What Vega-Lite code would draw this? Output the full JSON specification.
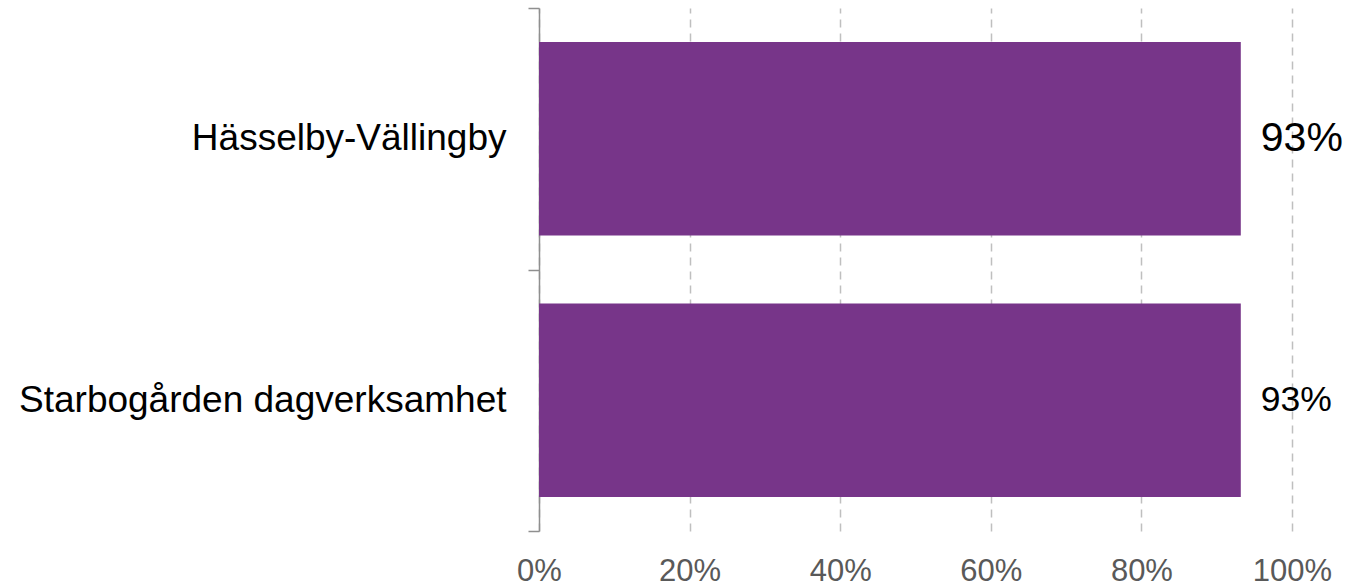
{
  "$schema": "https://vega.github.io/schema/vega-lite/v6.json",
  "autosize": "none",
  "padding": {"left": 539, "top": 8, "right": 75, "bottom": 57},
  "width": 753,
  "height": 523,
  "background": "white",
  "config": {
    "view": {"stroke": null},
    "font": "Liberation Sans"
  },
  "data": {
    "values": [
      {"unit": "Hässelby-Vällingby", "share": 0.932},
      {"unit": "Starbogården dagverksamhet", "share": 0.932}
    ]
  },
  "encoding": {
    "y": {
      "field": "unit",
      "type": "nominal",
      "sort": null,
      "scale": {"paddingInner": 0, "paddingOuter": 0},
      "axis": {
        "title": null,
        "grid": false,
        "tickBand": "extent",
        "tickSize": 11,
        "tickColor": "#8f8f8f",
        "tickWidth": 1.5,
        "domainColor": "#8f8f8f",
        "domainWidth": 1.5,
        "labelFont": "Liberation Sans",
        "labelFontSize": 37,
        "labelColor": "#000000",
        "labelPadding": 22,
        "labelLimit": 600
      }
    }
  },
  "layer": [
    {
      "mark": {"type": "bar", "color": "#773589", "height": {"band": 0.74}},
      "encoding": {
        "x": {
          "field": "share",
          "type": "quantitative",
          "scale": {"domain": [0, 1], "nice": false},
          "axis": {
            "title": null,
            "values": [0, 0.2, 0.4, 0.6, 0.8, 1],
            "format": ".0%",
            "domain": false,
            "ticks": false,
            "grid": true,
            "gridColor": "#bfbfbf",
            "gridWidth": 1.5,
            "gridDash": [8, 6],
            "labelFlush": false,
            "labelFont": "Liberation Sans",
            "labelFontSize": 31,
            "labelColor": "#595959",
            "labelPadding": 25
          }
        }
      }
    },
    {
      "mark": {"type": "text", "align": "left", "baseline": "middle", "dx": 20, "color": "#000000", "font": "Liberation Sans"},
      "encoding": {
        "x": {"field": "share", "type": "quantitative"},
        "text": {"field": "share", "type": "quantitative", "format": ".0%"},
        "size": {
          "condition": {"test": "datum.unit === 'Hässelby-Vällingby'", "value": 41},
          "value": 35.5
        }
      }
    }
  ]
}
